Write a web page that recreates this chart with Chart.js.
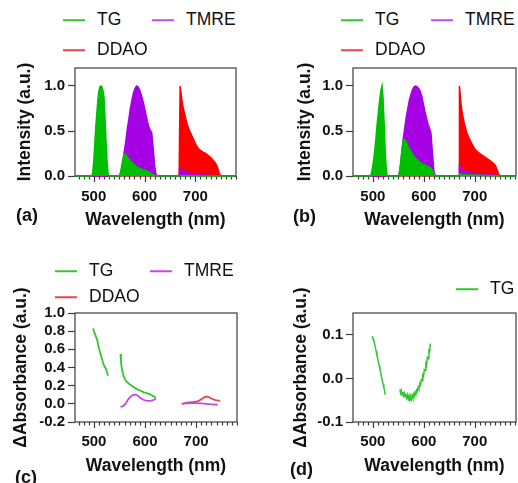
<!DOCTYPE html>
<html>
<head>
<meta charset="utf-8">
<script src="https://cdn.jsdelivr.net/npm/chart.js@4.4.1/dist/chart.umd.min.js"></script>
<style>
  html, body { margin: 0; padding: 0; background: #fff; }
  body { width: 518px; height: 483px; position: relative; overflow: hidden; font-family: "Liberation Sans", Arial, sans-serif; }
  .panel { position: absolute; }
  .lg { position: absolute; display: flex; align-items: center; font-size: 17.5px; color: #111; white-space: nowrap; line-height: 1; transform: translateY(-50%); }
  .lg i { display: inline-block; width: 22px; height: 2px; margin-right: 12px; }
  .tag { position: absolute; font-weight: bold; font-size: 18px; line-height: 1; color: #111; }
</style>
</head>
<body>
<div class="panel" style="left:0;top:55px"><canvas id="cA" width="259" height="185"></canvas></div>
<div class="panel" style="left:278px;top:55px"><canvas id="cB" width="240" height="185"></canvas></div>
<div class="panel" style="left:0;top:270px"><canvas id="cC" width="259" height="213"></canvas></div>
<div class="panel" style="left:278px;top:270px"><canvas id="cD" width="240" height="213"></canvas></div>
<div class="tag" style="left:16px;top:206px">(a)</div>
<div class="tag" style="left:293px;top:207px">(b)</div>
<div class="tag" style="left:15px;top:468px">(c)</div>
<div class="tag" style="left:290px;top:460px">(d)</div>
<script>
// ---- data ----
const seriesNames = ["TG", "TMRE", "DDAO"];
const majorX = [500, 600, 700];
const yTicksEm = [0, 0.5, 1.0];
const yTicksC = [-0.2, 0, 0.2, 0.4, 0.6, 0.8, 1.0];
const yTicksD = [-0.1, 0, 0.1];

// emission wavelengths shared by (a) and (b)
const emWl = [
  460, 494, 496, 498, 500, 502, 504, 506, 508, 510, 512, 514, 516, 518, 520, 522, 524, 526, 528, 530,
  548, 551, 554, 557, 560, 563, 566, 569, 572, 575, 578, 581, 584, 587, 590, 593, 596, 599, 602, 605, 608, 611, 614, 617, 620, 623, 625,
  668, 669.5, 670, 673, 676, 680, 684, 688, 692, 696, 700, 705, 710, 715, 720, 725, 730, 735, 740, 744, 747, 750, 752, 790
];

const tgA = [
  0, 0, 0, 0.04, 0.17, 0.36, 0.55, 0.7, 0.84, 0.94, 0.99, 1.0, 0.99, 0.95, 0.88, 0.65, 0.4, 0.17, 0.03, 0,
  0, 0, 0.08, 0.18, 0.245, 0.24, 0.21, 0.19, 0.17, 0.15, 0.135, 0.12, 0.105, 0.095, 0.085, 0.078, 0.07, 0.065, 0.06, 0.055, 0.045, 0.035, 0.025, 0.015, 0.005, 0, 0,
  0, 0, 0.004, 0.004, 0.003, 0.003, 0.003, 0.002, 0.002, 0.002, 0.002, 0.002, 0.001, 0.001, 0.001, 0.001, 0.001, 0.001, 0.001, 0, 0, 0, 0, 0
];
const tmreA = [
  0, 0, 0, 0, 0, 0, 0, 0, 0, 0, 0, 0, 0, 0, 0, 0, 0, 0, 0, 0,
  0, 0, 0.05, 0.15, 0.27, 0.38, 0.52, 0.63, 0.75, 0.84, 0.92, 0.97, 1.0, 0.99, 0.96, 0.91, 0.85, 0.78, 0.7, 0.62, 0.55, 0.51, 0.48, 0.3, 0.1, 0, 0,
  0, 0, 0.09, 0.07, 0.055, 0.045, 0.038, 0.032, 0.028, 0.024, 0.02, 0.017, 0.014, 0.012, 0.01, 0.008, 0.006, 0.005, 0.004, 0.003, 0.002, 0, 0, 0
];
const ddaoA = [
  0, 0, 0, 0, 0, 0, 0, 0, 0, 0, 0, 0, 0, 0, 0, 0, 0, 0, 0, 0,
  0, 0.006, 0.006, 0.006, 0.006, 0.006, 0.006, 0.006, 0.006, 0.006, 0.006, 0.006, 0.006, 0.006, 0.006, 0.006, 0.006, 0.006, 0.006, 0.006, 0.006, 0.006, 0.006, 0.006, 0.006, 0.006, 0,
  0, 0, 1.0, 0.86, 0.76, 0.66, 0.57, 0.51, 0.46, 0.41, 0.36, 0.31, 0.285, 0.265, 0.25, 0.23, 0.205, 0.175, 0.14, 0.09, 0.03, 0, 0, 0
];

const tgB = [
  0, 0, 0, 0.05, 0.12, 0.2, 0.3, 0.42, 0.55, 0.66, 0.77, 0.87, 0.95, 1.0, 0.86, 0.6, 0.3, 0.1, 0, 0,
  0, 0, 0.12, 0.28, 0.41, 0.4, 0.37, 0.33, 0.3, 0.27, 0.24, 0.215, 0.195, 0.18, 0.165, 0.15, 0.14, 0.13, 0.122, 0.115, 0.107, 0.1, 0.085, 0.06, 0.01, 0, 0,
  0, 0, 0.025, 0.02, 0.018, 0.015, 0.013, 0.012, 0.011, 0.01, 0.009, 0.008, 0.007, 0.006, 0.005, 0.005, 0.004, 0.004, 0.003, 0.002, 0.001, 0, 0, 0
];
const tmreB = [
  0, 0, 0, 0, 0, 0, 0, 0, 0, 0, 0, 0, 0, 0, 0, 0, 0, 0, 0, 0,
  0, 0, 0.1, 0.27, 0.43, 0.55, 0.67, 0.76, 0.85, 0.91, 0.96, 0.99, 1.0, 0.99, 0.97, 0.94, 0.89, 0.8, 0.72, 0.65, 0.58, 0.53, 0.48, 0.25, 0.04, 0, 0,
  0, 0, 0.12, 0.09, 0.07, 0.058, 0.048, 0.042, 0.037, 0.033, 0.03, 0.027, 0.024, 0.021, 0.018, 0.015, 0.012, 0.01, 0.008, 0.006, 0.003, 0, 0, 0
];
const ddaoB = [
  0, 0, 0, 0, 0, 0, 0, 0, 0, 0, 0, 0, 0, 0, 0, 0, 0, 0, 0, 0,
  0, 0.006, 0.006, 0.006, 0.006, 0.006, 0.006, 0.006, 0.006, 0.006, 0.006, 0.006, 0.006, 0.006, 0.006, 0.006, 0.006, 0.006, 0.006, 0.006, 0.006, 0.006, 0.006, 0.006, 0.006, 0.006, 0,
  0, 0, 1.0, 0.8, 0.68, 0.57, 0.49, 0.43, 0.385, 0.34, 0.3, 0.27, 0.25, 0.23, 0.21, 0.19, 0.17, 0.15, 0.12, 0.07, 0.02, 0, 0, 0
];

// delta absorbance (c); null = gap between detection bands
const tgAbsWl = [498, 500, 502, 504, 506, 508, 510, 512, 514, 516, 518, 520, 522, 524, 526, 528, 540,
  552, 553, 554, 556, 558, 560, 563, 566, 570, 574, 578, 582, 586, 590, 594, 598, 602, 606, 610, 613, 616, 619, 621];
const tgAbs = [0.83, 0.8, 0.77, 0.74, 0.71, 0.66, 0.61, 0.57, 0.53, 0.49, 0.45, 0.42, 0.4, 0.38, 0.34, 0.31, null,
  0.55, 0.47, 0.41, 0.35, 0.31, 0.28, 0.25, 0.235, 0.215, 0.2, 0.185, 0.17, 0.157, 0.147, 0.137, 0.127, 0.12, 0.113, 0.105, 0.095, 0.085, 0.072, 0.06];
const tmreAbsWl = [552, 555, 558, 562, 566, 570, 574, 578, 582, 586, 590, 594, 598, 602, 606, 610, 614, 618, 621, 650,
  672, 680, 690, 700, 710, 720, 730, 742];
const tmreAbs = [-0.03, -0.03, -0.02, 0, 0.04, 0.07, 0.09, 0.1, 0.102, 0.09, 0.07, 0.053, 0.042, 0.036, 0.033, 0.033, 0.037, 0.045, 0.055, null,
  0, 0.005, 0.008, 0.008, 0.005, 0, -0.005, -0.01];
const ddaoAbsWl = [672, 678, 684, 690, 696, 702, 706, 710, 714, 718, 722, 726, 730, 734, 738, 742, 747];
const ddaoAbs = [0, 0.008, 0.015, 0.018, 0.022, 0.028, 0.035, 0.05, 0.065, 0.078, 0.08, 0.073, 0.058, 0.048, 0.042, 0.038, 0.033];

// delta absorbance (d), TG only
const tgAbsDWl = [499, 500.5, 502, 503.5, 505, 506.5, 508, 509.5, 511, 512.5, 514, 515.5, 517, 518.5, 520, 521.5, 523, 524.5, 538,
  553, 554.5, 556, 557.5, 559, 560.5, 562, 563.5, 565, 566.5, 568, 569.5, 571, 572.5, 574, 575.5, 577, 578.5, 580, 581.5,
  583, 584.5, 586, 587.5, 589, 590.5, 592, 593.5, 595, 596.5, 598, 599.5, 601, 602.5, 604, 605.5, 607, 608.5, 610, 611.5, 613];
const tgAbsD = [0.097, 0.09, 0.086, 0.079, 0.07, 0.062, 0.052, 0.046, 0.036, 0.028, 0.02, 0.012, 0.003, -0.004, -0.013, -0.02, -0.029, -0.038, null,
  -0.025, -0.034, -0.028, -0.038, -0.031, -0.04, -0.034, -0.042, -0.036, -0.045, -0.038, -0.047, -0.04, -0.052, -0.041, -0.048, -0.039, -0.045, -0.036, -0.041,
  -0.032, -0.036, -0.027, -0.03, -0.02, -0.024, -0.012, -0.015, -0.003, -0.006, 0.008, 0.005, 0.02, 0.018, 0.034, 0.03, 0.048, 0.045, 0.064, 0.062, 0.08];

// ---- styling ----
const fillColors = ["#00bf00", "#a600e4", "#ff0000"];
const lineColors = ["#33c633", "#c24ae6", "#e64848"];
Chart.defaults.font.family = '"Liberation Sans", Arial, sans-serif';
Chart.defaults.color = "#111";

const pts = (xs, ys) => xs.map((x, i) => ({ x: x, y: ys[i] }));

// box round the plot + minor/major ticks on the wavelength axis
const frame = {
  id: "frame",
  beforeDatasetsDraw(chart) {
    const { ctx, chartArea: a } = chart;
    const xs = chart.scales.x;
    ctx.save();
    ctx.strokeStyle = "#3c3c3c";
    ctx.lineWidth = 1.2;
    ctx.strokeRect(a.left, a.top, a.right - a.left, a.bottom - a.top);
    ctx.beginPath();
    for (let v = Math.ceil(xs.min / 10) * 10; v <= xs.max; v += 10) {
      const px = Math.round(xs.getPixelForValue(v)) + 0.5;
      const len = majorX.includes(v) ? 6 : 3.5;
      ctx.moveTo(px, a.bottom);
      ctx.lineTo(px, a.bottom + len);
    }
    ctx.stroke();
    ctx.restore();
  }
};

function makePanel(id, p) {
  new Chart(document.getElementById(id), {
    type: "line",
    data: { datasets: p.datasets },
    options: {
      responsive: false,
      animation: false,
      layout: { padding: p.padding },
      plugins: { legend: { display: false }, tooltip: { enabled: false }, filler: { drawTime: "beforeDatasetDraw" } },
      elements: { point: { radius: 0 }, line: { tension: 0 } },
      scales: {
        x: {
          type: "linear", min: p.xMin, max: p.xMax,
          grid: { display: false, drawTicks: false },
          border: { display: false },
          afterBuildTicks: s => { s.ticks = majorX.map(v => ({ value: v })); },
          afterFit: s => { s.height = p.xAxisH; },
          ticks: { autoSkip: false, maxRotation: 0, padding: p.xTickPad, font: { size: 15, weight: "bold" } },
          title: { display: true, text: "Wavelength (nm)", font: { size: 17.5, weight: "bold" }, padding: { top: 0, bottom: p.xTitlePad } }
        },
        y: {
          min: p.yMin, max: p.yMax,
          grid: { drawOnChartArea: false, drawTicks: true, tickLength: 7, tickColor: "#3c3c3c", tickWidth: 1.2 },
          border: { display: false },
          afterBuildTicks: s => { s.ticks = p.yTicks.map(v => ({ value: v })); },
          afterFit: s => { s.width = 75; },
          ticks: { autoSkip: false, padding: 3, font: { size: 15, weight: "bold" }, callback: v => v.toFixed(1) },
          title: { display: true, text: p.yTitle, font: { size: 17.5, weight: "bold" }, padding: { top: p.yTitlePad, bottom: 0 } }
        }
      }
    },
    plugins: [frame]
  });
}

function emSet(i, ys) {
  return {
    label: seriesNames[i], data: pts(emWl, ys), fill: "origin",
    backgroundColor: fillColors[i], borderColor: fillColors[i], borderWidth: 1.5,
    clip: { left: 0, top: 0, right: 0, bottom: 3 }
  };
}
function absSet(i, xs, ys, w) {
  return {
    label: seriesNames[i], data: pts(xs, ys), fill: false, spanGaps: false,
    borderColor: lineColors[i], borderWidth: w
  };
}

makePanel("cA", {
  datasets: [emSet(0, tgA), emSet(1, tmreA), emSet(2, ddaoA)],
  padding: { top: 13, right: 23, left: 0, bottom: 0 },
  xMin: 463, xMax: 780, yMin: 0, yMax: 1.2, yTicks: yTicksEm,
  xAxisH: 64, xTickPad: 12, xTitlePad: 9.5, yTitle: "Intensity (a.u.)", yTitlePad: 15
});
makePanel("cB", {
  datasets: [emSet(0, tgB), emSet(1, tmreB), emSet(2, ddaoB)],
  padding: { top: 13, right: 2, left: 0, bottom: 0 },
  xMin: 461, xMax: 781, yMin: 0, yMax: 1.2, yTicks: yTicksEm,
  xAxisH: 64, xTickPad: 12, xTitlePad: 9.5, yTitle: "Intensity (a.u.)", yTitlePad: 16.5
});
makePanel("cC", {
  datasets: [absSet(0, tgAbsWl, tgAbs, 1.8), absSet(1, tmreAbsWl, tmreAbs, 1.8), absSet(2, ddaoAbsWl, ddaoAbs, 1.8)],
  padding: { top: 43, right: 22, left: 0, bottom: 0 },
  xMin: 463, xMax: 780, yMin: -0.2, yMax: 1.0, yTicks: yTicksC,
  xAxisH: 61, xTickPad: 11, xTitlePad: 6.5, yTitle: "\u0394Absorbance (a.u.)", yTitlePad: 11
});
makePanel("cD", {
  datasets: [absSet(0, tgAbsDWl, tgAbsD, 1.5)],
  padding: { top: 43, right: 2, left: 0, bottom: 0 },
  xMin: 461, xMax: 781, yMin: -0.1, yMax: 0.15, yTicks: yTicksD,
  xAxisH: 61, xTickPad: 11, xTitlePad: 6.5, yTitle: "\u0394Absorbance (a.u.)", yTitlePad: 12.5
});

// legends (html, above each panel)
const legendSpots = [
  [[63, 20, 0], [152, 20, 1], [63, 50, 2]],
  [[341, 20, 0], [431, 20, 1], [341, 50, 2]],
  [[55, 271, 0], [150, 271, 1], [55, 297, 2]],
  [[456, 289, 0]]
];
legendSpots.forEach(spots => spots.forEach(([x, y, i]) => {
  const d = document.createElement("div");
  d.className = "lg";
  d.style.left = x + "px";
  d.style.top = y + "px";
  d.innerHTML = '<i style="background:' + lineColors[i] + '"></i>' + seriesNames[i];
  document.body.appendChild(d);
}));
</script>
</body>
</html>
